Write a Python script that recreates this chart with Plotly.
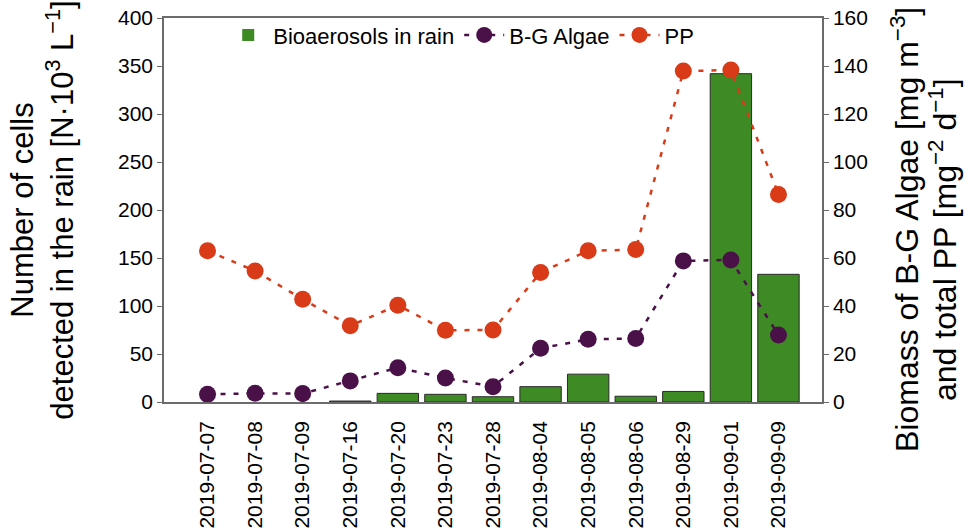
import plotly.graph_objects as go
from plotly.subplots import make_subplots

dates = ["2019-07-07", "2019-07-08", "2019-07-09", "2019-07-16", "2019-07-20",
         "2019-07-23", "2019-07-28", "2019-08-04", "2019-08-05", "2019-08-06",
         "2019-08-29", "2019-09-01", "2019-09-09"]
bioaerosols = [0, 0, 0, 1, 9, 8, 5.5, 16, 29, 6, 11, 342, 133]
bg_algae = [3.2, 3.6, 3.5, 8.8, 14.3, 10.0, 6.4, 22.4, 26.1, 26.5, 58.8, 59.2, 27.9]
pp = [63.0, 54.6, 42.8, 31.8, 40.3, 29.9, 30.0, 54.0, 63.0, 63.5, 137.9, 138.3, 86.5]

left_title = "Number of cells<br>detected in the rain [N·10<sup>3</sup> L<sup>−1</sup>]"
right_title_1 = "Biomass of B-G Algae [mg m<sup>−3</sup>]"
right_title_2 = "and total PP [mg<sup>−2</sup> d<sup>−1</sup>]"

FONT = "Liberation Sans, Arial, sans-serif"
GREEN = "#3E8A24"
PURPLE = "#4A1149"
ORANGE = "#D93A17"
AXIS = "#6b6b6b"

fig = make_subplots(specs=[[{"secondary_y": True}]])

fig.add_trace(go.Bar(
    x=dates, y=bioaerosols, name="Bioaerosols in rain",
    marker=dict(color=GREEN,
                line=dict(color="#2b2b2b", width=[0 if v == 0 else 1 for v in bioaerosols])),
    width=0.87,
), secondary_y=False)

fig.add_trace(go.Scatter(
    x=dates, y=bg_algae, name="B-G Algae", mode="lines+markers",
    line=dict(color=PURPLE, width=2.5, dash="5px,8px"),
    marker=dict(color=PURPLE, size=17),
), secondary_y=True)

fig.add_trace(go.Scatter(
    x=dates, y=pp, name="PP", mode="lines+markers",
    line=dict(color=ORANGE, width=2.5, dash="5px,8px"),
    marker=dict(color=ORANGE, size=17),
), secondary_y=True)

PL, PR, PT, PB = 164, 822, 18, 402  # plot box in page pixels
W, H = 969, 532

def px_x(x):
    return (x - PL) / (PR - PL)

def px_y(y):
    return (PB - y) / (PB - PT)

fig.update_layout(
    width=W, height=H,
    margin=dict(l=PL, r=W - PR, t=PT, b=H - PB, autoexpand=False),
    plot_bgcolor="white", paper_bgcolor="white",
    font=dict(family=FONT, size=20, color="black"),
    showlegend=True,
    legend=dict(orientation="h", x=0.09, xanchor="left", y=1.01, yanchor="top",
                font=dict(size=22), bgcolor="rgba(0,0,0,0)", traceorder="normal",
                itemwidth=40),
    annotations=[
        dict(text=right_title_1, textangle=-90, xref="paper", yref="paper",
             x=px_x(905), y=px_y(230), xanchor="center", yanchor="middle",
             showarrow=False, font=dict(size=32, family=FONT, color="black")),
        dict(text=right_title_2, textangle=-90, xref="paper", yref="paper",
             x=px_x(943), y=px_y(240), xanchor="center", yanchor="middle",
             showarrow=False, font=dict(size=32, family=FONT, color="black")),
    ],
)

fig.update_xaxes(
    type="category", tickangle=-90, showline=True, linecolor=AXIS, linewidth=1.5,
    mirror=True, ticks="", showgrid=False, tickfont=dict(size=21),
    ticklabelstandoff=9, automargin=False, domain=[0, 1],
)
fig.update_yaxes(
    range=[0, 400], dtick=50, showgrid=False, zeroline=False,
    showline=True, linecolor=AXIS, linewidth=1.5, ticks="outside", ticklen=5,
    tickcolor=AXIS, tickfont=dict(size=21), automargin=False, domain=[0, 1],
    ticklabeloverflow="allow",
    title=dict(text=left_title, font=dict(size=31), standoff=35),
    secondary_y=False,
)
fig.update_yaxes(
    range=[0, 160], dtick=20, showgrid=False, zeroline=False,
    showline=True, linecolor=AXIS, linewidth=1.5, ticks="outside", ticklen=5,
    tickcolor=AXIS, tickfont=dict(size=21), automargin=False,
    ticklabeloverflow="allow",
    secondary_y=True,
)

fig.write_html("out.html", config={"displayModeBar": False},
               post_script="document.body.style.margin='0px';")
